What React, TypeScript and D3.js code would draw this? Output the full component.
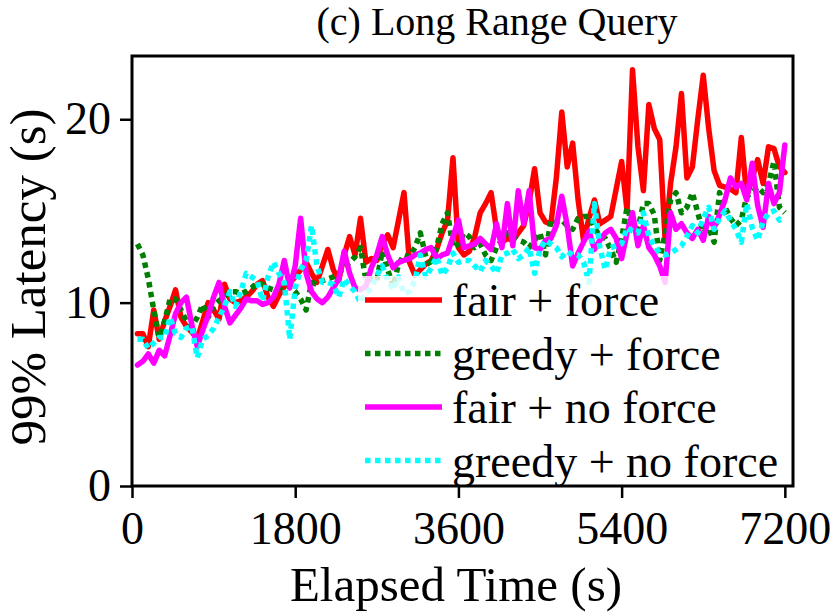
import React, { useEffect, useRef } from 'react';
import * as d3 from 'd3';

// one sample per minute, first one at t = 60 s
const SAMPLE_STEP = 60;

const fairForce = [
  8.3, 8.3, 7.6, 9.6, 8.0, 9.0, 9.8, 10.7, 9.2, 8.7,
  8.4, 8.0, 9.0, 10.0, 9.6, 9.1, 11.0, 10.2, 10.0, 10.1,
  10.3, 10.6, 11.0, 11.2, 10.3, 9.8, 10.4, 10.9, 11.1, 11.4,
  11.8, 12.2, 11.6, 11.1, 12.0, 12.9, 11.8, 11.2, 12.6, 13.6,
  12.6, 14.6, 12.2, 12.4, 12.3, 13.2, 13.7, 13.0, 14.5, 16.0,
  12.2, 11.5, 11.8, 12.1, 12.3, 12.9, 13.8, 14.5, 17.9, 13.0,
  12.6, 12.8, 13.6, 14.9, 15.4, 16.0, 14.0, 13.3, 13.5, 13.4,
  13.8, 14.2, 15.5, 17.3, 14.9, 14.4, 14.3, 16.8, 20.4, 17.4,
  18.7, 15.6, 13.4, 14.6, 15.6, 14.3, 14.5, 14.7, 16.2, 17.7,
  15.0, 22.7, 18.5, 16.1, 20.8, 19.5, 18.9, 13.4, 16.5, 18.5,
  21.4, 16.8, 17.4, 20.0, 22.4, 19.5, 17.2, 16.4, 16.3, 16.2,
  16.0, 19.0, 15.8, 16.8, 17.8, 16.5, 18.5, 18.4, 17.4, 17.1,
];

const greedyForce = [
  13.2, 12.6, 11.3, 9.6, 8.1, 9.0, 10.2, 10.2, 9.6, 9.0,
  8.7, 9.2, 9.9, 9.2, 9.8, 10.1, 10.3, 10.6, 10.6, 10.5,
  10.6, 10.8, 11.1, 11.0, 10.8, 10.7, 10.8, 10.9, 10.9, 10.6,
  10.2, 9.6, 11.1, 11.0, 11.2, 11.3, 11.4, 11.6, 11.9, 12.2,
  12.5, 13.0, 11.2, 11.3, 11.2, 12.8, 11.8, 10.9, 12.1, 12.6,
  12.5, 13.0, 13.8, 12.5, 12.0, 13.0, 14.3, 14.9, 13.0, 13.2,
  13.8, 13.6, 13.0, 13.2, 12.6, 12.3, 13.0, 13.4, 13.8, 13.6,
  13.4, 13.3, 13.0, 13.4, 13.8, 12.6, 14.5, 14.4, 14.5, 14.2,
  14.0, 14.6, 14.7, 14.7, 14.1, 13.6, 13.5, 12.9, 12.2, 13.5,
  15.2, 14.2, 14.0, 15.4, 15.4, 14.8, 12.3, 13.8, 15.6, 16.0,
  14.9, 15.2, 16.0, 14.9, 13.8, 14.1, 13.3, 16.0, 15.2, 14.6,
  14.2, 14.5, 15.8, 16.0, 16.3, 16.0, 16.5, 17.7, 15.2, 14.9,
];

const fairNoForce = [
  6.6, 6.8, 7.2, 6.7, 7.4, 7.1, 8.2, 9.4, 10.0, 10.3,
  8.8, 7.6, 8.5, 9.3, 10.3, 11.1, 9.8, 8.9, 9.3, 9.7,
  10.2, 10.1, 10.1, 9.9, 10.0, 10.3, 11.0, 12.3, 10.8, 12.0,
  14.6, 11.6, 10.6, 10.2, 10.0, 10.3, 10.8, 11.3, 12.8, 11.6,
  10.8, 10.7, 10.9, 11.9, 12.6, 13.6, 12.6, 11.9, 12.2, 12.3,
  12.4, 12.6, 12.7, 12.9, 13.0, 12.4, 12.6, 12.7, 13.6, 14.5,
  13.0, 13.1, 13.2, 13.5, 13.2, 12.9, 14.3, 13.0, 15.4, 13.1,
  16.1, 14.3, 16.1, 13.0, 12.9, 13.4, 13.5, 14.2, 15.8, 14.2,
  12.0, 12.7, 13.3, 13.9, 12.9, 13.4, 13.8, 14.0, 13.5, 12.4,
  13.8, 14.9, 13.1, 14.2, 13.0, 12.6, 12.0, 11.1, 14.9, 14.0,
  14.3, 13.8, 13.5, 14.0, 13.4, 14.7, 14.1, 14.8, 15.6, 16.8,
  16.3, 16.5, 15.6, 17.6, 15.3, 14.1, 16.5, 15.4, 16.0, 18.6,
];

const greedyNoForce = [
  8.0, 8.0, 7.5, 7.8, 8.1, 8.1, 9.2, 8.3, 8.1, 8.6,
  8.7, 7.0, 8.0, 8.2, 8.6, 9.2, 9.8, 10.6, 9.8, 10.6,
  11.6, 11.4, 11.2, 10.1, 11.4, 12.2, 11.6, 11.1, 8.0, 10.8,
  11.8, 12.3, 14.2, 12.0, 11.1, 11.1, 11.0, 10.3, 11.3, 10.9,
  10.6, 10.0, 10.5, 10.8, 11.5, 12.0, 11.2, 10.7, 11.4, 10.5,
  10.6, 11.2, 12.6, 11.4, 11.9, 12.5, 11.5, 11.9, 12.7, 12.2,
  12.3, 12.3, 12.0, 11.7, 12.3, 12.0, 11.6, 12.6, 12.7, 12.9,
  12.4, 12.6, 13.0, 11.6, 12.9, 13.4, 13.2, 13.0, 12.5, 12.8,
  12.6, 12.6, 12.2, 11.1, 15.4, 13.0, 11.8, 13.0, 13.1, 13.2,
  14.1, 13.9, 13.8, 14.9, 13.6, 13.1, 12.7, 12.6, 12.7, 12.9,
  13.1, 13.6, 14.2, 13.8, 14.6, 15.2, 14.0, 14.6, 15.0, 14.5,
  14.0, 13.3, 15.4, 14.1, 13.4, 14.4, 14.9, 15.0, 14.5, 14.6,
];

const seriesNames = ['fair + force', 'greedy + force', 'fair + no force', 'greedy + no force'];
const seriesValues = [fairForce, greedyForce, fairNoForce, greedyNoForce];
const seriesColors = ['#ff0000', '#008000', '#ff00ff', '#00ffff'];
const seriesDashed = [false, true, false, true];

const xTicks = [0, 1800, 3600, 5400, 7200];
const yTicks = [0, 10, 20];

const App = () => {
  const ref = useRef<SVGSVGElement | null>(null);

  useEffect(() => {
    if (!ref.current) return;
    const svg = d3.select(ref.current);
    svg.selectAll('*').remove();

    const W = 830, H = 614;
    const left = 132, right = 793, top = 56, bottom = 486;
    const font = '"Liberation Serif", "Times New Roman", serif';
    const dots = '5.5,4.5';

    const x = d3.scaleLinear().domain([0, 7290]).range([left, right]);
    const y = d3.scaleLinear().domain([0, 23.45]).range([bottom, top]);

    svg.append('rect').attr('width', W).attr('height', H).attr('fill', '#fff');

    // lines
    const line = d3.line<number>()
      .x((_, i) => x((i + 1) * SAMPLE_STEP))
      .y(d => y(d));

    seriesValues.forEach((vals, k) => {
      svg.append('path')
        .attr('d', line(vals))
        .attr('fill', 'none')
        .attr('stroke', seriesColors[k])
        .attr('stroke-width', 5.5)
        .attr('stroke-linejoin', 'round')
        .attr('stroke-linecap', seriesDashed[k] ? 'butt' : 'round')
        .attr('stroke-dasharray', seriesDashed[k] ? dots : null);
    });

    // axes
    const xAxis = svg.append('g')
      .attr('transform', `translate(0,${bottom})`)
      .call(d3.axisBottom(x).tickValues(xTicks).tickSize(12).tickPadding(13).tickFormat(d3.format('d')));
    const yAxis = svg.append('g')
      .attr('transform', `translate(${left},0)`)
      .call(d3.axisLeft(y).tickValues(yTicks).tickSize(12).tickPadding(9));

    [xAxis, yAxis].forEach(g => {
      g.select('.domain').remove();
      g.selectAll('line').attr('stroke', '#000').attr('stroke-width', 2.5);
      g.selectAll('text')
        .attr('fill', '#000')
        .style('font-family', font)
        .style('font-size', '46px');
    });

    // frame
    svg.append('rect')
      .attr('x', left).attr('y', top)
      .attr('width', right - left).attr('height', bottom - top)
      .attr('fill', 'none').attr('stroke', '#000').attr('stroke-width', 3);

    // legend
    const lg = svg.append('g');
    lg.append('rect')
      .attr('x', 358).attr('y', 276).attr('width', 430).attr('height', 205)
      .attr('fill', '#fff').attr('opacity', 0.8);
    seriesNames.forEach((name, k) => {
      const ly = 300 + k * 53.5;
      lg.append('line')
        .attr('x1', 365).attr('x2', 442).attr('y1', ly).attr('y2', ly)
        .attr('stroke', seriesColors[k]).attr('stroke-width', 5.5)
        .attr('stroke-dasharray', seriesDashed[k] ? dots : null);
      lg.append('text')
        .attr('x', 452).attr('y', ly)
        .attr('dy', '0.35em')
        .style('font-family', font).style('font-size', '46px')
        .text(name);
    });

    // titles
    svg.append('text')
      .attr('x', 497).attr('y', 35)
      .attr('text-anchor', 'middle')
      .style('font-family', font).style('font-size', '40px')
      .text('(c) Long Range Query');

    svg.append('text')
      .attr('x', 456).attr('y', 601)
      .attr('text-anchor', 'middle')
      .style('font-family', font).style('font-size', '49px')
      .text('Elapsed Time (s)');

    svg.append('text')
      .attr('transform', `translate(45,277) rotate(-90)`)
      .attr('text-anchor', 'middle')
      .style('font-family', font).style('font-size', '51px')
      .text('99% Latency (s)');
  }, []);

  return (
    <div style={{ position: 'absolute', left: 0, top: 0 }}>
      <svg ref={ref} width={830} height={614} style={{ display: 'block' }} />
    </div>
  );
};

export default App;
